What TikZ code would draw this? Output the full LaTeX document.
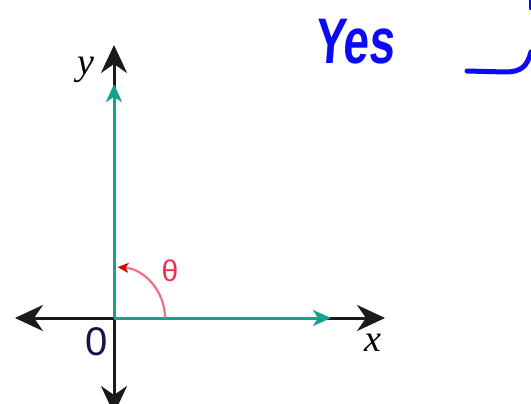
\documentclass[tikz,border=0pt]{standalone}
\usepackage{fontspec}
\setmainfont{Liberation Serif}
\setsansfont{Liberation Sans}
\usetikzlibrary{arrows.meta}
\definecolor{tealv}{HTML}{16A090}
\definecolor{angred}{HTML}{F07080}
\definecolor{thetared}{HTML}{F03050}
\definecolor{penblue}{HTML}{0A0AF5}
\definecolor{axisblack}{HTML}{1A1A1A}
\tikzset{
  axis/.style={line width=3pt, color=axisblack, -{Stealth[length=28pt,width=26pt,inset=9pt]}},
  vec/.style={line width=3pt, color=tealv, -{Stealth[length=18pt,width=16pt,inset=5pt]}},
  anglearc/.style={line width=2.2pt, color=angred, -{Stealth[length=11pt,width=10pt,inset=3pt,color=red!85!black]}},
  lbl/.style={inner sep=0pt},
  pen/.style={line width=5pt, color=penblue, line cap=round, line join=round}
}
\begin{document}
\begin{tikzpicture}[x=1pt,y=-1pt]
\useasboundingbox (0,0) rectangle (531,404);
\coordinate (O) at (114,318);
\coordinate (L) at (15,318);
\coordinate (R) at (385,318);
\coordinate (T) at (114,45);
\coordinate (B) at (114,414);
\coordinate (VT) at (114,84);
\coordinate (VR) at (331,318);
% axes
\draw[axis] (O) -- (L);
\draw[axis] (O) -- (R);
\draw[axis] (O) -- (T);
\draw[axis] (O) -- (B);
% vectors
\draw[vec] (O) -- (VT);
\draw[vec] (O) -- (VR);
% angle
\coordinate (A0) at (165,318);
\draw[anglearc] (A0) arc[start angle=0, end angle=-86, radius=51];
% labels
\node[lbl, font=\fontsize{38}{38}\selectfont\itshape] (ylab) at (86,70) {y};
\node[lbl, font=\fontsize{38}{38}\selectfont\itshape] (xlab) at (373,343) {x};
\node[lbl, font=\fontsize{40}{40}\selectfont\sffamily, color=axisblack!80!blue] (olab) at (97,342) {0};
\node[lbl, font=\fontsize{30}{30}\selectfont\sffamily, color=thetared] (thlab) at (170,271) {θ};
% handwritten
\node[inner sep=0pt, color=penblue, font=\fontsize{46}{46}\sffamily\bfseries\selectfont, xslant=0.08, yscale=1.4] (yes) at (356,42) {Yes};
\coordinate (H0) at (467,71);
\coordinate (H1) at (531,52);
\draw[pen] (H0) -- (505,72) .. controls (522,72) and (527,66) .. (H1);
\coordinate (H2) at (531,0);
\draw[pen] (H2) -- (531,8);
\end{tikzpicture}
\end{document}
